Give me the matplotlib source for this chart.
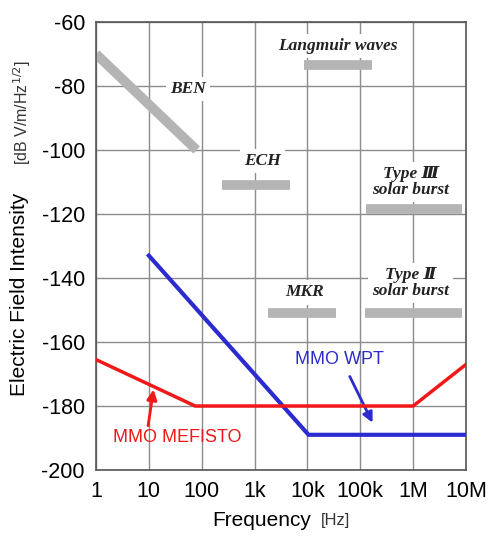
import matplotlib.pyplot as plt
import numpy as np

plt.rcParams['font.family'] = ['Liberation Sans', 'DejaVu Sans']
plt.rcParams['axes.unicode_minus'] = False

# instrument sensitivity curves
wpt_freq = [10, 10500, 1e7]
wpt_db = [-133, -189, -189]
mef_freq = [1, 75, 1e6, 1e7]
mef_db = [-165.5, -180, -180, -167]

# natural emissions (grey bars)
ben_freq = [1, 80]
ben_db = [-70, -100]
bands = {
    'ECH': ([240, 4600], -111),
    'Langmuir': ([8500, 170000], -73.5),
    'TypeIII': ([130000, 8.5e6], -118.5),
    'MKR': ([1800, 35000], -151),
    'TypeII': ([125000, 8.5e6], -151),
}

xticks = [1, 10, 100, 1e3, 1e4, 1e5, 1e6, 1e7]
xticklabels = ['1', '10', '100', '1k', '10k', '100k', '1M', '10M']
yticks = [-60, -80, -100, -120, -140, -160, -180, -200]

fig = plt.figure(figsize=(4.89, 5.43), dpi=100)
ax = fig.add_axes([96/489, 1-470/543, 370/489, 448/543])

ax.set_xscale('log')
ax.set_xlim(1, 1e7)
ax.set_ylim(-200, -60)
ax.set_xticks(xticks)
ax.set_xticklabels(xticklabels)
ax.set_yticks(yticks)
ax.minorticks_off()
ax.tick_params(labelsize=15.5, length=0, pad=8)
ax.grid(True, color='#8c8c8c', lw=1.0, zorder=0)
for s in ax.spines.values():
    s.set_color('#555555')
    s.set_linewidth(1.2)

grey = '#b4b4b4'
ax.plot(ben_freq, ben_db, color=grey, lw=7, solid_capstyle='butt', zorder=2)
for k, (f, v) in bands.items():
    ax.plot(f, [v, v], color=grey, lw=7, solid_capstyle='butt', zorder=2)

lab = dict(family=['Liberation Serif', 'DejaVu Serif'], style='italic', weight='bold',
           fontsize=12.5, ha='center', va='center', color='#222222', zorder=3,
           bbox=dict(facecolor='white', edgecolor='none', pad=3))
ax.text(55, -81, 'BEN', **lab)
ax.text(1400, -103.5, 'ECH', **lab)
ax.text(37000, -67.5, 'Langmuir waves', **lab)
ax.text(900000, -110, 'Type \u2162\nsolar burst', linespacing=1.0, **lab)
ax.text(9000, -144.5, 'MKR', **lab)
ax.text(900000, -141.5, 'Type \u2161\nsolar burst', linespacing=1.0, **lab)

ax.plot(wpt_freq, wpt_db, color='#2b2bd0', lw=3, zorder=4)
ax.plot(mef_freq, mef_db, color='#f01818', lw=2.5, zorder=4)

ax.text(40000, -165.5, 'MMO WPT', color='#2b2bd0', fontsize=13, ha='center', va='center')
ax.annotate('', xy=(180000, -186), xytext=(60000, -170),
            arrowprops=dict(arrowstyle='-|>', color='#2b2bd0', lw=2, mutation_scale=15))
ax.text(35, -189.8, 'MMO MEFISTO', color='#f01818', fontsize=13, ha='center', va='center')
ax.annotate('', xy=(12.5, -174), xytext=(9.5, -187),
            arrowprops=dict(arrowstyle='-|>', color='#f01818', lw=2, mutation_scale=15))

fig.text(20/489, 1-294/543, 'Electric Field Intensity', rotation=90, fontsize=15,
         ha='center', va='center')
fig.text(22/489, 1-113/543, '[dB V/m/Hz$^{1/2}$]', rotation=90, fontsize=11.5,
         ha='center', va='center', color='#333333')
fig.text(262/489, 1-520/543, 'Frequency', fontsize=15, ha='center', va='center')
fig.text(336/489, 1-520/543, '[Hz]', fontsize=12, ha='center', va='center', color='#333333')

fig.savefig('out.png', dpi=100)
